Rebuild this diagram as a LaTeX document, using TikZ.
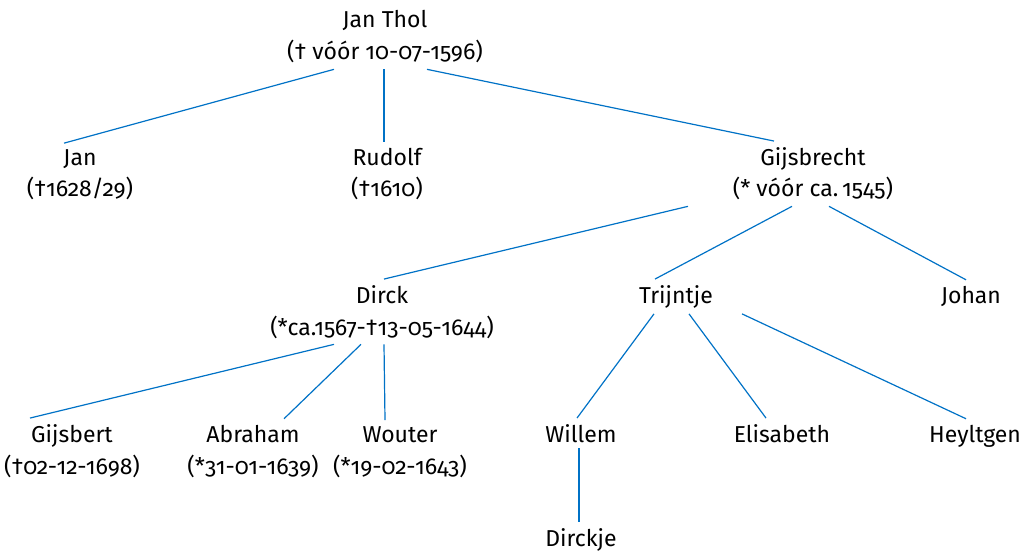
\documentclass[tikz,border=0pt]{standalone}
\usepackage{fontspec}
\setmainfont{Fira Sans}[Numbers=OldStyle]
\usepackage{tikz}
\usetikzlibrary{positioning,calc}

\definecolor{linkblue}{RGB}{0,114,198}

\tikzset{
  person/.style={align=center, inner sep=0pt, outer xsep=0pt, outer ysep=3pt,
    anchor=base, font=\fontsize{11.5}{16}\selectfont},
  link/.style={draw=linkblue, line width=0.6pt}
}

\begin{document}
\begin{tikzpicture}[x=0.5pt, y=-0.5pt]
\useasboundingbox (0,0) rectangle (1028,551);

% Generation 1 (base = last line)
\node[person] (jthol) at (385,60) {Jan Thol\\(† vóór 10-07-1596)};

% Generation 2
\node[person] (jan) at (80,197) {Jan\\(†1628/29)};
\node[person] (rudolf) at (387,197) {Rudolf\\(†1610)};
\node[person] (gijsbrecht) at (813,197) {Gijsbrecht\\(* vóór ca.\,1545)};

% Generation 3
\node[person] (dirck) at (382,335) {Dirck\\(*ca.1567-†13-05-1644)};
\node[person] (trijntje) at (676,303) {Trijntje};
\node[person] (johan) at (971,303) {Johan};

% Generation 4
\node[person] (gijsbert) at (72,474) {Gijsbert\\(†02-12-1698)};
\node[person] (abraham) at (253,474) {Abraham\\(*31-01-1639)};
\node[person] (wouter) at (400,474) {Wouter\\(*19-02-1643)};
\node[person] (willem) at (581,442) {Willem};
\node[person] (elisabeth) at (782,442) {Elisabeth};
\node[person] (heyltgen) at (975,442) {Heyltgen};

% Generation 5
\node[person] (dirckje) at (581,546) {Dirckje};

% Connections
\draw[link] ($(jthol.south)+(-51,0)$) -- ($(jan.north)+(-16,0)$);
\draw[link] ($(jthol.south)+(-1,0)$) -- ($(rudolf.north)+(-3,0)$);
\draw[link] ($(jthol.south)+(42,0)$) -- ($(gijsbrecht.north)+(-39,0)$);
\draw[link] ($(gijsbrecht.south)+(-125,0)$) -- ($(dirck.north)+(2,0)$);
\draw[link] ($(gijsbrecht.south)+(-21,0)$) -- ($(trijntje.north)+(-21,0)$);
\draw[link] ($(gijsbrecht.south)+(16,0)$) -- ($(johan.north)+(-5,0)$);
\draw[link] ($(dirck.south)+(-48,0)$) -- ($(gijsbert.north)+(-42,0)$);
\draw[link] ($(dirck.south)+(-21,0)$) -- ($(abraham.north)+(31,0)$);
\draw[link] ($(dirck.south)+(2,0)$) -- ($(wouter.north)+(-15,0)$);
\draw[link] ($(trijntje.south)+(-22,0)$) -- ($(willem.north)+(-4,0)$);
\draw[link] ($(trijntje.south)+(13,0)$) -- ($(elisabeth.north)+(-16,0)$);
\draw[link] ($(trijntje.south)+(66,0)$) -- ($(heyltgen.north)+(-9,0)$);
\draw[link] ($(willem.south)+(-2,0)$) -- ($(dirckje.north)+(-2,0)$);

\end{tikzpicture}
\end{document}
